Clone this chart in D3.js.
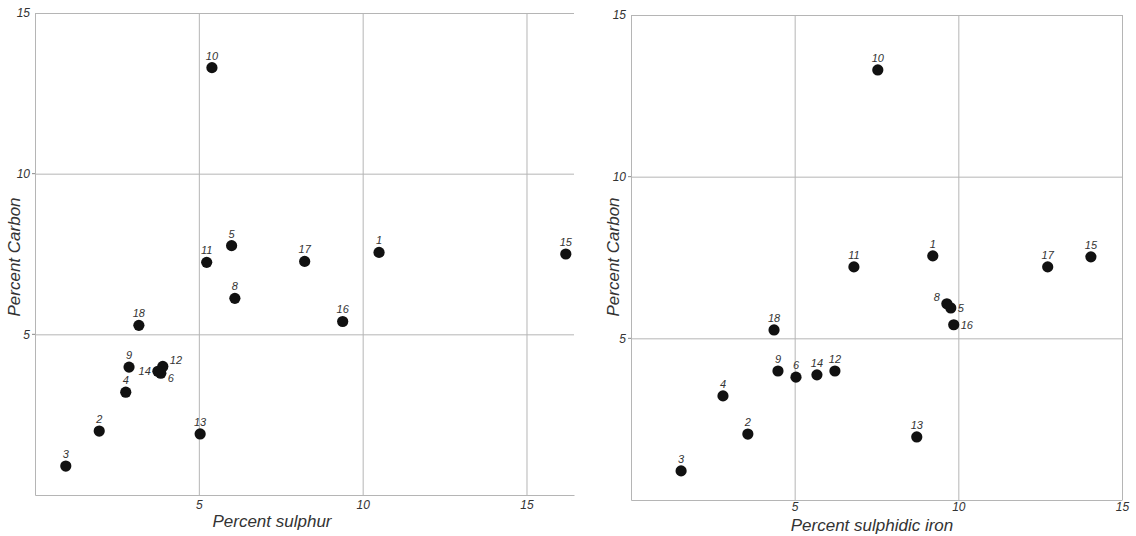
<!DOCTYPE html>
<html>
<head>
<meta charset="utf-8">
<script src="https://cdn.jsdelivr.net/npm/d3@7"></script>
<style>
  body { margin: 0; background: #fff; }
  text { font-family: "Liberation Sans", Arial, sans-serif; font-style: italic; fill: #333; }
</style>
</head>
<body>
<div id="chart"></div>
<script>
// sample numbers and their measurements
const samples       = [1, 2, 3, 4, 5, 6, 8, 9, 10, 11, 12, 13, 14, 15, 16, 17, 18]
const sulphur       = [10.5, 1.96, 0.94, 2.77, 6.0, 3.84, 6.1, 2.87, 5.4, 5.24, 3.9, 5.04, 3.75, 16.2, 9.39, 8.23, 3.17]
const carbonLeft    = [7.55, 1.99, 0.9, 3.2, 7.76, 3.79, 6.12, 3.98, 13.3, 7.24, 4.0, 1.9, 3.85, 7.5, 5.4, 7.27, 5.28]
const sulphidicIron = [9.22, 3.57, 1.53, 2.81, 9.77, 5.04, 9.65, 4.49, 7.54, 6.81, 6.23, 8.73, 5.68, 14.05, 9.86, 12.73, 4.37]
const carbonRight   = [7.55, 2.04, 0.9, 3.22, 5.94, 3.8, 6.07, 3.99, 13.3, 7.21, 3.99, 1.95, 3.87, 7.52, 5.42, 7.21, 5.26]
const gridTicks     = [5, 10, 15]

// where the sample number sits around its dot (default: above)
const labelSpots = {
    left:  {14: "left", 6: "belowRight", 12: "aboveRight"},
    right: {8: "aboveLeft", 5: "right", 16: "right"}
}

const svg = d3.select("#chart")
    .append("svg")
    .attr("width", 1136)
    .attr("height", 536)

function panel(opts) {
    const data = samples.map((s, i) => ({id: s, x: opts.xs[i], y: opts.ys[i]}))

    const x = d3.scaleLinear().domain(opts.xDomain).range(opts.xRange)
    const y = d3.scaleLinear().domain([0, 15]).range(opts.yRange)
    const w = opts.xRange[1] - opts.xRange[0]
    const h = opts.yRange[0] - opts.yRange[1]

    const g = svg.append("g")

    // grid + x labels
    const xAxis = d3.axisBottom(x)
        .tickValues(gridTicks)
        .tickSizeInner(-h)
        .tickSizeOuter(0)
        .tickPadding(opts.xPad)
    g.append("g")
        .attr("transform", "translate(0," + opts.yRange[0] + ")")
        .call(xAxis)

    const yAxis = d3.axisLeft(y)
        .tickValues(gridTicks)
        .tickSizeInner(-w)
        .tickSizeOuter(0)
        .tickPadding(5)
    g.append("g")
        .attr("transform", "translate(" + opts.xRange[0] + ",0)")
        .call(yAxis)

    g.selectAll(".domain, .tick line")
        .attr("stroke", "#b5b5b5")
        .attr("stroke-width", 1)
    g.selectAll(".tick text")
        .attr("font-size", "12px")
        .attr("font-style", "italic")
        .attr("fill", "#444")
        .attr("font-family", "Liberation Sans, Arial, sans-serif")

    // small outside tick dashes on the y axis
    g.selectAll(".ydash")
        .data(gridTicks.slice(0, 2))
        .enter()
        .append("line")
        .attr("x1", opts.xRange[0] - 3)
        .attr("x2", opts.xRange[0])
        .attr("y1", d => y(d))
        .attr("y2", d => y(d))
        .attr("stroke", "#888")

    g.selectAll("circle")
        .data(data)
        .enter()
        .append("circle")
        .attr("cx", d => x(d.x))
        .attr("cy", d => y(d.y))
        .attr("r", 5.6)
        .attr("fill", "#111")

    const spots = labelSpots[opts.name]
    g.selectAll(".num")
        .data(data)
        .enter()
        .append("text")
        .attr("class", "num")
        .attr("font-size", "11px")
        .attr("x", d => {
            const s = spots[d.id]
            if (s === "left" || s === "aboveLeft") return x(d.x) - 7
            if (s === "right" || s === "belowRight" || s === "aboveRight") return x(d.x) + 7
            return x(d.x)
        })
        .attr("y", d => {
            const s = spots[d.id]
            if (s === "left" || s === "right") return y(d.y) + 4
            if (s === "belowRight") return y(d.y) + 9
            if (s === "aboveRight") return y(d.y) - 2
            if (s === "aboveLeft") return y(d.y) - 3
            return y(d.y) - 8
        })
        .attr("text-anchor", d => {
            const s = spots[d.id]
            if (s === "left" || s === "aboveLeft") return "end"
            if (s) return "start"
            return "middle"
        })
        .text(d => d.id)

    g.append("text")
        .attr("x", opts.titleX)
        .attr("y", opts.titleY)
        .attr("font-size", "17px")
        .attr("text-anchor", "middle")
        .text(opts.xTitle)

    g.append("text")
        .attr("transform", "translate(" + opts.yTitleX + ",257) rotate(-90)")
        .attr("font-size", "17px")
        .attr("text-anchor", "middle")
        .text("Percent  Carbon")
}

panel({
    name: "left",
    xs: sulphur, ys: carbonLeft,
    xDomain: [0, 16.45], xRange: [35, 574], yRange: [495, 13],
    xPad: 5, xTitle: "Percent  sulphur", titleX: 272, titleY: 527, yTitleX: 20
})

panel({
    name: "right",
    xs: sulphidicIron, ys: carbonRight,
    xDomain: [0, 15], xRange: [631, 1122], yRange: [500, 15],
    xPad: 2, xTitle: "Percent  sulphidic  iron", titleX: 872, titleY: 531, yTitleX: 619
})
</script>
</body>
</html>
